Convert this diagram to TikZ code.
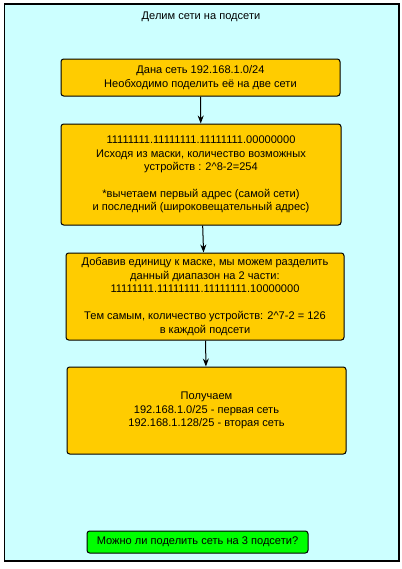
\documentclass[tikz,border=0pt]{standalone}
\usepackage{fontspec}
\setmainfont{Liberation Sans}
\usetikzlibrary{arrows.meta}

\definecolor{bgcyan}{HTML}{CCFFFF}
\definecolor{boxorange}{HTML}{FFCC00}
\definecolor{boxgreen}{HTML}{00FF00}

\tikzset{
	stepbox/.style={draw, fill=boxorange, rounded corners=2pt, line width=0.75pt,
		align=center, inner sep=0pt, font=\fontsize{8.3}{10.1}\selectfont},
	askbox/.style={stepbox, fill=boxgreen}
}

\begin{document}
\begin{tikzpicture}[x=0.75pt, y=-0.75pt]
			\useasboundingbox (0,0) rectangle (402,569);
			\draw[fill=bgcyan, line width=0.9pt] (4.5,4) rectangle (399,561);
			\node[font=\fontsize{8.3}{10.1}\selectfont] (title) at (201,17) {Делим сети на подсети};
			
			\node[stepbox, minimum width=209.25pt, minimum height=27.75pt] (given) at (200.5,77.5)
				{Дана сеть 192.168.1.0/24\\Необходимо поделить её на две сети};
			\node[stepbox, minimum width=210pt, minimum height=75.75pt] (mask) at (201,174.5)
				{11111111.11111111.11111111.00000000\\Исходя из маски, количество возможных\\устройств : 2\^{}8-2=254\\[10.1pt]
				*вычетаем первый адрес (самой сети)\\и последний (широковещательный адрес)};
			\node[stepbox, minimum width=208.5pt, minimum height=65.25pt] (split) at (205,296.5)
				{Добавив единицу к маске, мы можем разделить\\данный диапазон на 2 части:\\11111111.11111111.11111111.10000000\\[10.1pt]
				Тем самым, количество устройств: 2\^{}7-2 = 126\\в каждой подсети};
			\node[stepbox, minimum width=209.25pt, minimum height=65.25pt] (result) at (206.5,410.5)
				{Получаем\\192.168.1.0/25 - первая сеть\\192.168.1.128/25 - вторая сеть};
			\node[askbox, minimum width=165.75pt, minimum height=16.5pt] (question) at (197.5,542)
				{Можно ли поделить сеть на 3 подсети?};
			
			\begin{scope}[-{Stealth[length=6pt, width=4.5pt]}, line width=0.75pt]
			\draw (given) -- (mask);
			\draw (mask) -- (split);
			\draw (split) -- (result);
			\end{scope}
		\end{tikzpicture}
\end{document}
